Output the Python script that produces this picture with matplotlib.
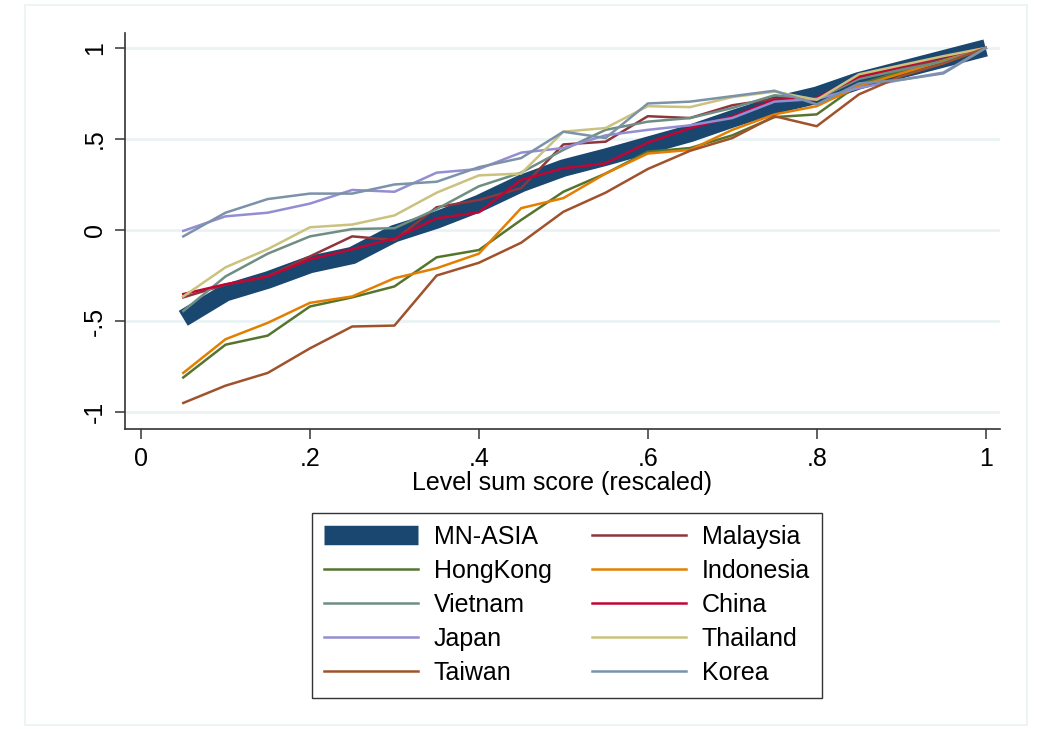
import matplotlib.pyplot as plt
from matplotlib.patches import Rectangle
import numpy as np

plt.rcParams['font.family'] = ['Liberation Sans', 'DejaVu Sans']

######### DATA ##############
score = [0.05, 0.10, 0.15, 0.20, 0.25, 0.30, 0.35, 0.40, 0.45, 0.50,
         0.55, 0.60, 0.65, 0.70, 0.75, 0.80, 0.85, 0.90, 0.95, 1.00]

mn_asia = [-0.485, -0.345, -0.275, -0.19, -0.14, -0.02, 0.055, 0.145, 0.255, 0.34,
           0.40, 0.465, 0.53, 0.61, 0.685, 0.74, 0.82, 0.88, 0.94, 1.0]
malaysia = [-0.37, -0.30, -0.255, -0.145, -0.035, -0.055, 0.125, 0.165, 0.23, 0.47,
            0.485, 0.625, 0.615, 0.685, 0.72, 0.715, 0.84, 0.89, 0.935, 1.0]
hongkong = [-0.81, -0.63, -0.58, -0.42, -0.37, -0.31, -0.15, -0.11, 0.055, 0.21,
            0.31, 0.43, 0.45, 0.52, 0.62, 0.635, 0.80, 0.87, 0.93, 1.0]
indonesia = [-0.785, -0.60, -0.51, -0.40, -0.365, -0.265, -0.21, -0.13, 0.12, 0.175,
             0.31, 0.42, 0.44, 0.55, 0.635, 0.68, 0.79, 0.86, 0.93, 1.0]
vietnam = [-0.445, -0.255, -0.13, -0.035, 0.005, 0.01, 0.115, 0.24, 0.315, 0.44,
           0.55, 0.595, 0.615, 0.67, 0.74, 0.72, 0.83, 0.88, 0.925, 1.0]
china = [-0.352, -0.298, -0.256, -0.161, -0.106, -0.046, 0.064, 0.097, 0.275, 0.339,
         0.366, 0.48, 0.559, 0.623, 0.714, 0.725, 0.842, 0.897, 0.952, 1.0]
japan = [-0.005, 0.075, 0.095, 0.145, 0.22, 0.21, 0.315, 0.335, 0.425, 0.45,
         0.52, 0.55, 0.575, 0.615, 0.705, 0.72, 0.78, 0.825, 0.865, 1.0]
thailand = [-0.365, -0.205, -0.105, 0.015, 0.03, 0.08, 0.205, 0.30, 0.31, 0.54,
            0.56, 0.68, 0.675, 0.73, 0.76, 0.715, 0.855, 0.905, 0.955, 1.0]
taiwan = [-0.95, -0.855, -0.785, -0.65, -0.53, -0.525, -0.25, -0.18, -0.07, 0.10,
          0.205, 0.335, 0.435, 0.505, 0.625, 0.57, 0.745, 0.845, 0.915, 1.0]
korea = [-0.035, 0.095, 0.17, 0.20, 0.20, 0.25, 0.265, 0.345, 0.395, 0.54,
         0.505, 0.695, 0.705, 0.735, 0.765, 0.69, 0.805, 0.825, 0.86, 1.0]

# drawing order (stata s2color palette)
series = [('MN-ASIA', mn_asia, '#1a476f'),
          ('Malaysia', malaysia, '#90353b'),
          ('HongKong', hongkong, '#55752f'),
          ('Indonesia', indonesia, '#e37e00'),
          ('Vietnam', vietnam, '#6e8e84'),
          ('China', china, '#c10534'),
          ('Japan', japan, '#938dd2'),
          ('Thailand', thailand, '#cac27e'),
          ('Taiwan', taiwan, '#a0522d'),
          ('Korea', korea, '#7b92a8')]
#############################

FS = 18

fig = plt.figure(figsize=(10.4, 7.29), dpi=100)
fig.patches.append(Rectangle((25 / 1040, 0.005), 1002 / 1040, 1 - 5 / 729 - 0.005,
                             transform=fig.transFigure, fill=False,
                             edgecolor='#eaf2f3', linewidth=1.2))
ax = fig.add_axes([125 / 1040, 1 - 429 / 729, 875 / 1040, 396 / 729])

handles = {}
for name, vals, col in series:
    if name == 'MN-ASIA':
        ln, = ax.plot(score, vals, color=col, linewidth=12.5, solid_capstyle='butt',
                      solid_joinstyle='miter', zorder=2)
    else:
        ln, = ax.plot(score, vals, color=col, linewidth=1.8, zorder=3)
    handles[name] = ln

ax.set_xlim(-0.019, 1.017)
ax.set_ylim(-1.093, 1.082)
ax.set_xticks(np.arange(0, 1.01, 0.2))
ax.set_xticklabels(['0', '.2', '.4', '.6', '.8', '1'])
ax.set_yticks([-1, -0.5, 0, 0.5, 1])
ax.set_yticklabels(['-1', '-.5', '0', '.5', '1'], rotation=90, va='center')
ax.grid(axis='y', color='#eaf2f3', linewidth=2)
ax.set_axisbelow(True)
for s in ['top', 'right']:
    ax.spines[s].set_visible(False)
for s in ['left', 'bottom']:
    ax.spines[s].set_color('#333333')
    ax.spines[s].set_linewidth(1.2)
ax.tick_params(direction='out', length=7, width=1.2, color='#444444',
               labelsize=FS, pad=6)
ax.set_xlabel('Level sum score (rescaled)', fontsize=FS, labelpad=0)

## LEGEND IN TWO COLUMNS, ROW-WISE ORDER
order = ['MN-ASIA', 'HongKong', 'Vietnam', 'Japan', 'Taiwan',
         'Malaysia', 'Indonesia', 'China', 'Thailand', 'Korea']
leg = fig.legend([handles[n] for n in order], order, loc='center',
                 bbox_to_anchor=(567 / 1040, 1 - 605 / 729), ncol=2,
                 fontsize=FS, frameon=True, fancybox=False, edgecolor='black',
                 handlelength=3.75, handletextpad=0.64, columnspacing=1.6,
                 labelspacing=0.4, borderpad=0.5, borderaxespad=0)
leg.get_frame().set_linewidth(1.0)
leg.legend_handles[0].set_linewidth(14)

plt.savefig('out.png', dpi=100)
